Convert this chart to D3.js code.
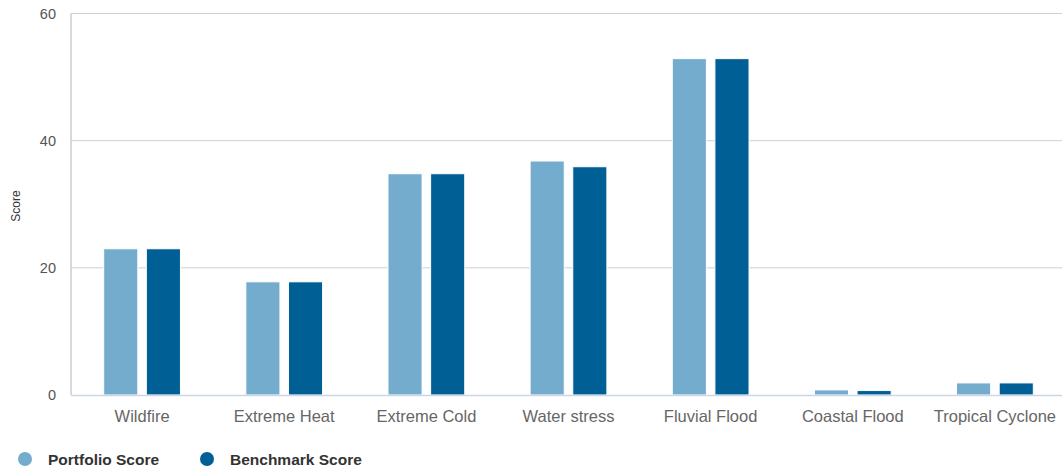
<!DOCTYPE html>
<html>
<head>
  <script src="https://d3js.org/d3.v7.min.js"></script>
  <style>
    body { margin: 0; background: #fff; }
    text { font-family: "Liberation Sans", Arial, sans-serif; }
  </style>
</head>
<body>
<div id="chart"></div>
<script>
  // Chart data
  const categories = ["Wildfire", "Extreme Heat", "Extreme Cold", "Water stress", "Fluvial Flood", "Coastal Flood", "Tropical Cyclone"];
  const seriesNames = ["Portfolio Score", "Benchmark Score"];
  const portfolio = [23, 17.8, 34.8, 36.8, 52.9, 0.8, 1.9];
  const benchmark = [23, 17.8, 34.8, 35.9, 52.9, 0.7, 1.9];
  const yTicks = [0, 20, 40, 60];
  const colors = ["#74acce", "#005f94"];

  const W = 1062, H = 471;
  const svg = d3.select("#chart").append("svg").attr("width", W).attr("height", H);

  const x0 = d3.scaleBand().domain(categories).range([71, 1066]).padding(0);
  const bw = x0.bandwidth();
  const x1 = d3.scaleBand().domain(seriesNames)
    .range([bw * 0.2, bw * 0.8]).paddingInner(0.2).paddingOuter(0.1);
  const y = d3.scaleLinear().domain([0, 60]).range([395, 13.5]);

  // gridlines
  svg.append("g").selectAll("line").data(yTicks.filter(d => d > 0)).join("line")
    .attr("x1", 71).attr("x2", W)
    .attr("y1", d => y(d)).attr("y2", d => y(d))
    .attr("stroke", "#d0d0d0").attr("stroke-width", 1);

  // left axis line
  svg.append("line").attr("x1", 71).attr("x2", 71)
    .attr("y1", y(60)).attr("y2", y(0))
    .attr("stroke", "#cccccc").attr("stroke-width", 1.5);

  // y tick labels
  svg.append("g").selectAll("text").data(yTicks).join("text")
    .attr("x", 56).attr("y", d => y(d) + 5)
    .attr("text-anchor", "end")
    .attr("font-size", 14.5).attr("fill", "#555")
    .text(d => d);

  // y title
  svg.append("text")
    .attr("transform", "translate(20,206) rotate(-90)")
    .attr("text-anchor", "middle")
    .attr("font-size", 12).attr("fill", "#333")
    .text("Score");

  // bars
  const rows = categories.map((c, i) => ({ cat: c, vals: [portfolio[i], benchmark[i]] }));
  const groups = svg.append("g").selectAll("g").data(rows).join("g")
    .attr("transform", d => `translate(${x0(d.cat)},0)`);
  groups.selectAll("rect")
    .data(d => d.vals.map((v, k) => ({ name: seriesNames[k], v: v, k: k })))
    .join("rect")
    .attr("x", d => x1(d.name))
    .attr("width", x1.bandwidth())
    .attr("y", d => y(d.v))
    .attr("height", d => y(0) - y(d.v))
    .attr("fill", d => colors[d.k])
    .attr("stroke", "#ffffff").attr("stroke-width", 1);

  // bottom axis line
  svg.append("line").attr("x1", 71).attr("x2", W)
    .attr("y1", y(0) + 0.5).attr("y2", y(0) + 0.5)
    .attr("stroke", "#ccd6eb").attr("stroke-width", 1.5);

  // category labels
  svg.append("g").selectAll("text").data(categories).join("text")
    .attr("x", d => x0(d) + bw / 2).attr("y", 422)
    .attr("text-anchor", "middle")
    .attr("font-size", 16.5).attr("fill", "#666")
    .text(d => d);

  // legend
  const legX = [25, 207];
  const leg = svg.append("g").selectAll("g").data(seriesNames).join("g")
    .attr("transform", (d, i) => `translate(${legX[i]},459)`);
  leg.append("circle").attr("r", 7).attr("fill", (d, i) => colors[i]);
  leg.append("text").attr("x", 23).attr("y", 5.5)
    .attr("font-size", 15.5).attr("font-weight", "bold").attr("fill", "#333")
    .text(d => d);
</script>
</body>
</html>
